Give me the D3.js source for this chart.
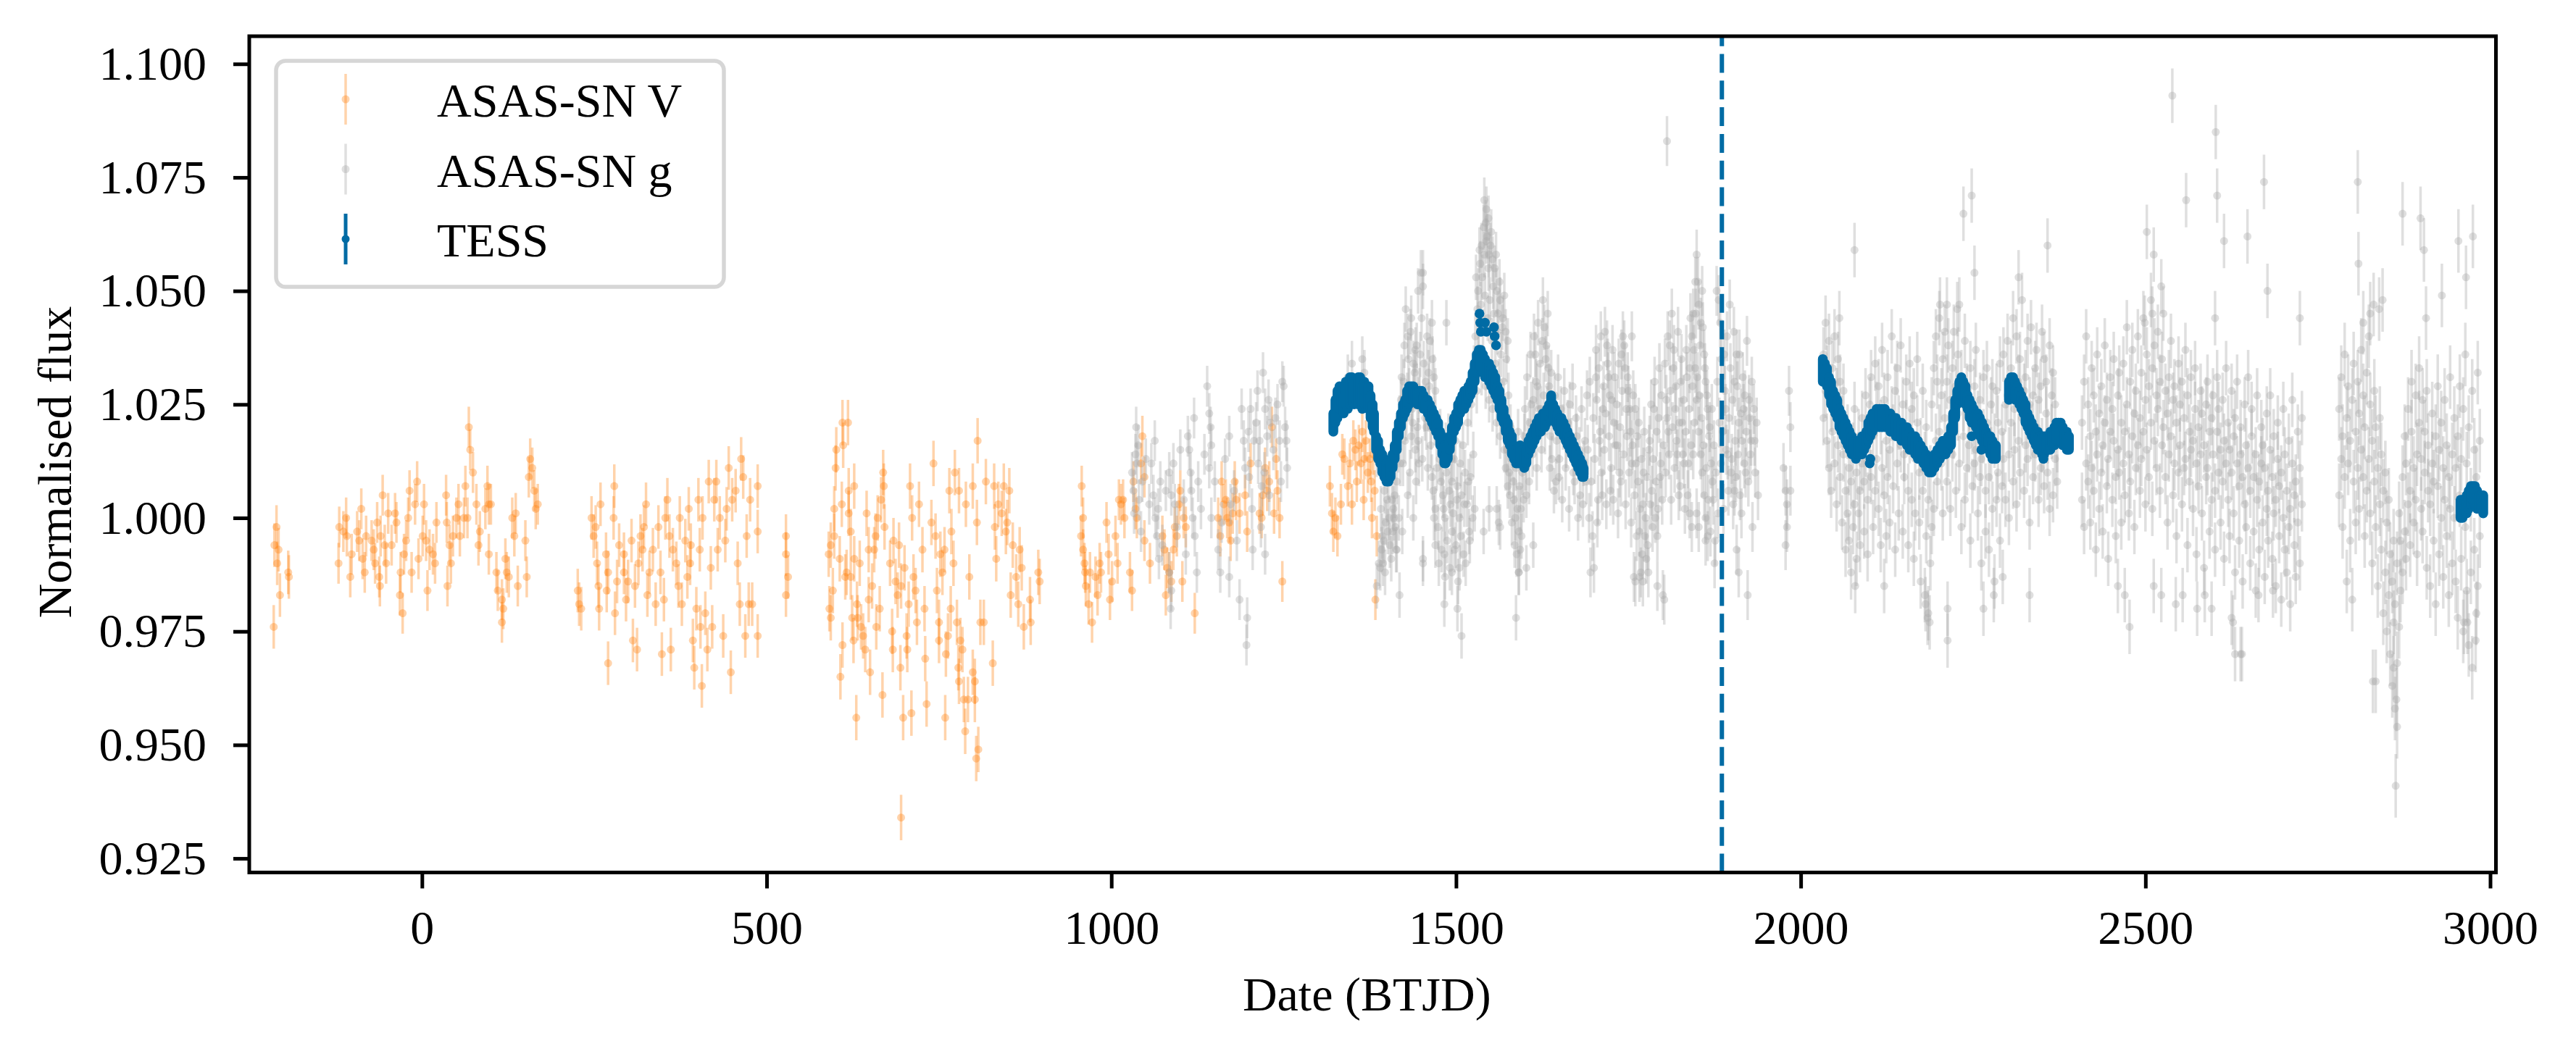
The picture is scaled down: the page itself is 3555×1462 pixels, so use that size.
<!DOCTYPE html>
<html>
<head>
<meta charset="utf-8">
<script src="https://d3js.org/d3.v7.min.js"></script>
<style>
body { margin: 0; background: #fff; }
text { font-family: "Liberation Serif", "DejaVu Serif", serif; }
</style>
</head>
<body>
<svg id="chart" width="3555" height="1462"></svg>
<script>

// ---- data: [date (BTJD), normalised flux] ----

// ASAS-SN V, one array per observing season
var asasV1 = [[-211,0.998],[-214,0.994],[-208,0.993],[-210,0.990],[-206,0.983],[-215,0.976],[-194,0.988],[-193,0.987]];
var asasV2 = [[-120,0.998],[-121,0.990],[-114,0.997],[-110,1.000],[-109,0.996],[-104,0.987],[-102,0.992],[-94,0.997],[-91,0.995],[-88,1.002],
  [-86,0.991],[-83,0.988],[-81,0.996],[-73,0.995],[-70,0.993],[-68,0.990],[-65,0.999],[-62,0.987],[-61,0.985],[-60,0.996],
  [-57,1.005],[-54,0.994],[-52,0.990],[-49,1.001],[-44,0.994],[-39,1.001],[-37,0.999],[-32,0.983],[-31,0.988],[-28,0.979],
  [-26,0.992],[-23,0.995],[-20,1.000],[-18,1.006],[-15,0.988],[-10,1.003],[-7,1.008],[-5,0.991],[1,0.996],[3,1.003],
  [6,0.995],[8,0.984],[11,0.993],[16,0.992],[19,0.990],[21,0.999],[35,1.005],[36,0.999],[37,0.985],[40,0.994],
  [42,0.990],[45,0.996],[50,1.000],[53,1.003],[55,0.996],[61,1.000],[63,1.007],[66,1.000],[68,1.020],[70,1.015],
  [74,1.010],[79,1.003],[82,0.994],[84,0.997],[92,1.002],[95,1.007],[97,1.003],[100,1.003],[97,0.992],[108,0.988],
  [110,0.984],[116,0.982],[118,0.980],[116,0.977],[121,0.991],[123,0.988],[126,0.987],[131,1.000],[134,0.996],[136,1.001],
  [139,0.985],[150,0.995],[152,0.987],[155,1.009],[157,1.013],[160,1.011],[163,1.006],[165,1.002],[168,1.003]];
var asasV3 = [[226,0.984],[228,0.981],[231,0.980],[246,1.000],[249,0.996],[252,0.998],[254,0.990],[256,0.985],[257,0.980],[259,1.003],
  [267,0.992],[270,0.988],[268,0.984],[270,0.968],[278,1.000],[279,1.007],[280,0.979],[283,0.986],[286,0.994],[293,0.992],
  [293,0.988],[296,0.982],[299,0.986],[304,0.995],[306,0.973],[309,0.985],[312,0.971],[314,0.990],[317,0.996],[320,0.993],
  [322,0.998],[325,1.003],[327,0.983],[330,0.988],[335,0.993],[339,0.981],[343,0.998],[346,0.988],[348,0.970],[351,0.982],
  [353,1.000],[356,1.004],[359,0.996],[361,0.971],[364,0.993],[369,0.990],[372,0.985],[374,1.000],[377,0.981],[382,0.995],
  [385,0.987],[387,1.002],[389,0.990],[390,0.994],[393,0.973],[395,0.967],[398,0.980],[401,1.004],[403,0.993],[404,0.976],
  [406,0.963],[407,1.000],[411,0.979],[414,0.971],[416,1.008],[419,0.989],[421,0.976],[424,1.004],[427,1.008],[429,0.993],
  [432,1.000],[437,0.974],[440,0.995],[442,1.002],[445,1.011],[448,0.966],[450,1.004],[455,1.006],[458,0.990],[461,0.981],
  [463,1.013],[466,1.009],[469,0.974],[471,0.996],[474,0.981],[476,1.004],[479,0.981],[487,1.007],[487,0.997],[487,0.974],
  [528,0.996],[528,0.992],[531,0.987],[528,0.983]];
var asasV4 = [[593,0.994],[590,0.992],[591,0.980],[593,0.978],[596,0.984],[598,0.996],[598,1.002],[600,1.011],[601,1.015],[606,0.991],
  [607,0.965],[609,1.003],[610,1.021],[611,1.016],[610,0.972],[614,0.987],[616,0.988],[618,1.021],[619,1.006],[619,1.001],
  [622,0.987],[622,0.997],[624,0.978],[626,0.973],[627,1.007],[627,0.991],[630,0.956],[631,0.981],[632,0.978],[635,0.990],
  [637,0.976],[640,0.974],[643,0.971],[645,1.001],[648,0.982],[648,0.993],[650,0.966],[653,0.985],[656,0.993],[658,0.996],
  [659,0.976],[661,1.000],[664,0.980],[666,1.004],[668,0.961],[669,1.010],[670,1.007],[671,0.998],[679,0.990],[682,0.975],
  [683,0.971],[684,0.995],[687,0.986],[690,0.983],[692,0.994],[694,0.967],[695,0.985],[698,0.956],[700,0.989],[703,0.974],
  [704,0.971],[706,0.981],[708,1.007],[710,0.957],[711,1.000],[713,0.987],[716,0.984],[718,0.977],[721,1.003],[726,0.993],
  [729,0.980],[730,0.969],[732,0.959],[739,0.999],[742,1.012],[745,0.996],[747,0.984],[750,0.973],[750,0.977],[752,0.992],
  [755,0.988],[758,0.993],[759,0.956],[760,0.970],[763,0.974],[765,1.006],[767,0.980],[768,0.997],[771,0.990],[773,1.010],
  [776,0.977],[778,0.967],[779,1.006],[779,0.964],[781,0.973],[784,0.971],[786,0.960],[788,0.953],[789,1.003],[792,0.960],
  [794,0.987],[799,1.007],[799,0.966],[802,0.964],[802,0.960],[804,0.947],[805,0.999],[806,1.017],[807,0.949],[810,0.977],
  [815,0.977],[818,1.008],[828,0.968],[830,1.007],[831,0.998],[833,0.991],[836,1.003],[841,1.001],[844,1.007],[847,0.997],
  [849,0.999],[852,1.006],[854,0.983],[857,0.994],[862,0.987],[865,0.981],[867,0.993],[870,0.989],[873,0.976],[882,0.982],
  [883,0.977],[894,0.988],[896,0.986],[695,0.934]];
var asasV5 = [[957,1.007],[959,1.000],[956,0.996],[959,0.993],[961,0.990],[962,0.988],[963,0.985],[967,0.981],[969,0.988],[972,0.977],
  [977,0.987],[980,0.983],[983,0.990],[985,0.988],[993,0.999],[996,0.992],[998,0.982],[1001,0.986],[1006,0.996],[1009,0.990],
  [1011,1.004],[1014,1.003],[1017,1.004],[1019,1.000],[1027,0.988],[1030,0.984],[1032,1.008],[1035,1.002],[1037,1.000],[1043,1.012],
  [1045,1.018],[1048,0.995],[1048,1.009],[1056,0.990],[1074,0.996],[1077,0.993],[1079,0.983],[1081,0.989],[1084,0.988],[1087,0.986],
  [1090,0.993],[1092,0.998],[1095,0.996],[1098,1.003],[1100,1.006],[1103,0.986],[1105,1.000],[1108,0.998],[1121,0.979],[1155,1.000],
  [1158,0.996],[1160,1.008],[1163,1.003],[1166,1.004],[1168,1.000],[1171,0.999],[1173,0.995],[1176,1.001],[1179,1.008],[1181,1.004],
  [1186,1.001],[1194,1.005],[1197,0.997],[1202,1.012],[1215,1.001],[1218,1.000],[1220,1.005],[1223,1.011],[1226,1.006],[1229,1.008],
  [1233,1.020],[1236,1.001],[1239,1.013],[1241,1.006],[1244,1.000],[1248,0.986]];
var asasV6 = [[1317,1.007],[1320,1.001],[1322,0.997],[1325,1.000],[1328,0.996],[1333,1.003],[1335,1.014],[1338,1.013],[1343,1.007],[1346,1.012],
  [1349,1.003],[1351,1.017],[1354,1.015],[1356,1.008],[1359,1.016],[1362,1.012],[1364,1.019],[1367,1.013],[1369,1.017],[1372,1.010],
  [1375,1.013],[1377,1.008],[1380,1.014],[1383,0.982],[1385,0.996],[1378,1.000],[1366,1.004],[1382,1.006]];
var asasVErr = [0.0048, 0.0045, 0.0048, 0.0050, 0.0045, 0.0045];

// ASAS-SN g, one array per observing season
var asasG1 = [[1030,1.010],[1032,1.006],[1035,1.014],[1036,1.020],[1037,1.012],[1040,1.004],[1043,0.997],[1058,1.012],[1061,1.005],[1064,1.000],
  [1066,0.996],[1069,0.991],[1071,1.008],[1084,1.010],[1087,1.005],[1084,0.988],[1087,0.984],[1086,0.980],[1092,1.003],[1111,1.018],
  [1113,1.015],[1116,1.006],[1118,1.000],[1121,0.996],[1124,0.988],[1126,1.008],[1139,1.029],[1142,1.023],[1144,1.020],[1145,1.016],
  [1142,1.011],[1145,1.000],[1155,0.993],[1158,0.988],[1171,1.018],[1173,1.003],[1171,0.987],[1186,0.982],[1189,1.024],[1192,1.017],
  [1194,1.011],[1197,0.978],[1196,0.972],[1199,1.019],[1202,1.024],[1205,0.993],[1207,1.017],[1210,1.021],[1213,1.012],[1215,1.017],
  [1218,1.007],[1220,1.032],[1223,1.024],[1226,1.018],[1223,0.992],[1228,1.026],[1231,1.021],[1241,1.025],[1244,1.017],[1248,1.030],
  [1250,1.029],[1254,1.017],[1255,1.011],
  [1033,1.001],[1039,1.016],[1045,1.008],[1050,1.013],[1055,1.003],[1063,1.017],[1068,1.002],[1074,0.994],[1079,1.006],[1090,1.012],
  [1095,0.998],[1100,1.015],[1105,1.004],[1108,0.992],[1115,1.010],[1120,1.022],[1130,1.002],[1135,1.014],[1150,1.008],[1160,0.999],
  [1165,1.013],[1178,1.006],[1182,0.995],[1200,1.009],[1204,1.002],[1212,1.028],[1217,0.998],[1222,1.010],[1229,1.005],[1235,1.015],
  [1238,1.022],[1246,1.008],[1252,1.020]];
var asasG2 = [[1343,1.031],[1349,1.034],[1364,1.035],[1367,1.032],[1385,1.014],[1388,0.990],[1385,0.985],
  [1390,0.989],[1395,0.995],[1401,0.997],[1403,1.000],[1409,1.002],[1411,1.005],[1414,1.008],[1417,1.000],[1419,1.012],[1422,0.997],
  [1414,0.993],[1406,0.991],[1427,1.046],[1430,1.040],[1435,1.044],[1438,1.034],[1441,1.037],[1443,1.029],[1446,1.026],[1452,1.054],
  [1452,1.051],[1454,1.024],[1457,1.020],[1460,1.032],[1462,1.039],[1465,1.043],[1468,1.031],[1470,1.028],[1435,1.018],[1441,1.015],
  [1446,1.012],[1430,1.005],[1438,1.000],[1452,0.991],[1468,1.000],[1470,1.002],[1465,1.009],[1476,1.013],[1478,1.008],[1481,1.005],
  [1484,1.000],[1486,1.010],[1489,1.018],[1492,1.003],[1494,0.997],[1497,1.013],[1500,0.994],[1502,1.007],[1505,1.000],[1508,1.005],
  [1511,0.992],[1513,1.010],[1516,1.003],[1519,0.997],[1521,1.009],[1524,1.000],[1527,1.002],[1494,1.008],[1505,0.989],[1486,1.043],
  [1484,0.987],[1529,1.053],[1532,1.050],[1535,1.056],[1537,1.060],[1540,1.064],[1543,1.065],[1545,1.062],[1548,1.058],[1551,1.063],
  [1553,1.057],[1556,1.055],[1559,1.050],[1561,1.045],[1564,1.048],[1567,1.042],[1570,1.049],[1572,1.041],[1575,1.039],[1532,1.036],
  [1537,1.032],[1543,1.029],[1548,1.026],[1553,1.024],[1559,1.021],[1564,1.018],[1570,1.015],[1572,1.011],[1575,1.007],[1559,1.002],
  [1564,0.998],[1548,1.002],[1578,1.005],[1580,1.013],[1540,0.997],[1541,1.070],[1544,1.068],[1547,1.066],[1583,1.008],[1586,1.000],
  [1588,0.992],[1591,0.997],[1594,1.002],[1596,1.010],[1599,1.018],[1602,1.005],[1607,1.021],[1612,1.026],[1615,1.036],[1618,1.029],
  [1623,1.024],[1626,1.048],[1628,1.042],[1631,1.038],[1634,1.033],[1637,1.018],[1639,1.013],[1645,1.008],[1650,1.013],[1612,0.994],
  [1602,0.989],[1591,0.988],[1418,0.983],[1452,0.990],[1483,0.981],[1483,0.992],[1494,0.988],[1502,0.980],[1508,0.974],[1562,0.999],
  [1587,0.978],[1591,0.988],[1593,0.993],[1392,0.993],[1394,0.990],[1397,0.988],[1408,0.997],[1410,1.000],[1413,0.993],[1400,1.004],
  [1470,0.994],[1475,0.990],[1420,1.026],[1424,1.030],[1428,1.022],[1432,1.028],[1436,1.024],[1440,1.032],[1444,1.020],[1448,1.036],
  [1456,1.030],[1460,1.024],[1464,1.020],[1449,1.054],[1445,1.050],[1655,1.020],[1660,1.016],[1665,1.025],[1670,1.010],[1675,1.018],
  [1680,1.005],[1685,1.012],
  [1391,1.002],[1393,0.996],[1396,1.006],[1398,0.999],[1402,1.009],[1404,0.994],[1407,1.004],[1412,0.998],[1416,1.015],[1418,1.022],
  [1421,1.031],[1423,1.012],[1425,1.038],[1426,1.017],[1429,1.027],[1431,1.035],[1433,1.010],[1434,1.041],[1437,1.021],[1439,1.029],
  [1442,1.008],[1443,1.038],[1445,1.017],[1447,1.028],[1450,1.044],[1451,1.013],[1453,1.034],[1455,1.022],[1458,1.040],[1459,1.011],
  [1461,1.029],[1463,1.016],[1466,1.035],[1467,1.006],[1469,1.021],[1472,1.011],[1474,0.998],[1477,1.019],[1479,0.993],[1480,1.012],
  [1482,1.002],[1485,1.016],[1487,0.995],[1490,1.006],[1491,0.989],[1493,1.013],[1496,1.001],[1498,0.993],[1499,1.017],[1501,1.004],
  [1503,0.986],[1506,1.012],[1507,0.996],[1510,1.016],[1512,1.003],[1514,0.990],[1517,1.021],[1518,1.008],[1520,0.995],[1522,1.025],
  [1525,1.014],[1526,1.033],[1528,1.040],[1530,1.028],[1531,1.046],[1533,1.037],[1534,1.059],[1536,1.047],[1538,1.053],[1539,1.041],
  [1541,1.058],[1542,1.049],[1544,1.061],[1546,1.044],[1547,1.055],[1549,1.048],[1550,1.060],[1552,1.039],[1554,1.051],[1555,1.045],
  [1557,1.034],[1558,1.058],[1560,1.041],[1562,1.030],[1563,1.052],[1565,1.036],[1566,1.024],[1568,1.044],[1569,1.030],[1571,1.021],
  [1573,1.035],[1574,1.015],[1576,1.027],[1577,1.010],[1579,1.020],[1581,0.999],[1582,1.016],[1584,1.004],[1585,0.994],[1587,1.011],
  [1589,1.002],[1590,1.019],[1592,1.007],[1595,0.996],[1597,1.014],[1598,1.004],[1600,1.024],[1601,1.011],[1603,1.031],[1604,1.017],
  [1606,1.008],[1608,1.036],[1609,1.025],[1611,1.014],[1613,1.040],[1614,1.020],[1616,1.030],[1617,1.011],[1619,1.043],[1620,1.024],
  [1622,1.034],[1624,1.015],[1625,1.039],[1627,1.027],[1629,1.019],[1630,1.035],[1632,1.024],[1633,1.045],[1635,1.029],[1636,1.011],
  [1638,1.032],[1640,1.022],[1642,1.006],[1643,1.027],[1646,1.017],[1648,1.031],[1649,1.009],[1652,1.024],[1654,1.004],[1657,1.028],
  [1659,1.011],[1662,1.021],[1664,1.002],[1667,1.017],[1669,1.029],[1672,1.008],[1674,1.022],[1677,1.000],[1679,1.015],[1682,1.024],
  [1684,1.003],[1687,1.017],[1689,1.008]];
var asasG3 = [[1690,1.027],[1693,1.000],[1695,0.988],[1698,0.996],[1700,0.989],[1703,1.037],[1703,1.031],[1706,1.004],[1708,1.017],[1711,1.010],
  [1713,1.024],[1716,1.041],[1719,1.038],[1721,1.031],[1724,1.006],[1726,1.026],[1729,1.021],[1734,1.016],[1737,1.010],[1740,1.036],
  [1742,1.040],[1745,1.033],[1747,1.024],[1750,1.028],[1753,1.019],[1755,1.012],[1758,0.987],[1760,0.986],[1763,1.018],[1766,0.997],
  [1768,0.988],[1771,1.003],[1774,0.996],[1776,0.991],[1779,0.988],[1760,1.024],[1755,1.040],[1781,1.017],[1784,1.006],[1787,1.024],
  [1789,1.000],[1792,0.996],[1795,1.033],[1797,1.012],[1800,0.983],[1802,0.982],[1805,1.026],[1808,1.019],[1810,1.038],[1813,1.045],
  [1815,1.033],[1818,1.024],[1821,1.014],[1823,1.005],[1826,1.030],[1828,1.021],[1831,1.012],[1834,1.037],[1836,1.005],[1839,1.001],
  [1842,0.998],[1844,1.014],[1766,0.987],[1771,0.986],[1792,0.985],[1806,1.083],[1847,1.052],[1849,1.058],[1852,1.047],[1855,1.043],
  [1857,1.050],[1860,1.036],[1862,1.030],[1865,1.024],[1844,1.045],[1842,1.040],[1839,1.033],[1847,1.033],[1849,1.026],[1852,1.019],
  [1855,1.014],[1857,1.010],[1860,1.005],[1862,1.000],[1865,0.996],[1849,1.001],[1852,0.998],[1862,0.995],[1878,1.050],[1881,1.048],
  [1883,1.043],[1870,1.012],[1873,1.004],[1876,0.995],[1868,1.020],[1889,1.036],[1891,1.024],[1894,1.014],[1897,1.047],[1899,1.010],
  [1902,1.003],[1904,1.030],[1907,1.036],[1910,1.021],[1912,1.005],[1915,1.017],[1917,1.024],[1920,1.010],[1923,0.983],[1925,1.026],
  [1928,1.017],[1933,1.017],[1907,0.993],[1910,0.988],[1904,1.006],[1975,1.011],[1978,1.006],[1980,0.998],[1978,0.994],[1983,1.028],
  [1985,1.020],[1985,1.006],[1980,1.003],
  [1691,1.015],[1694,1.030],[1696,1.008],[1699,1.022],[1701,1.013],[1704,1.026],[1705,0.999],[1707,1.033],[1709,1.019],[1710,1.040],
  [1712,1.005],[1714,1.029],[1715,1.015],[1717,1.023],[1718,1.003],[1720,1.034],[1722,1.018],[1723,1.027],[1725,1.011],[1727,1.037],
  [1728,1.004],[1730,1.031],[1731,1.016],[1733,1.025],[1735,1.001],[1736,1.034],[1738,1.020],[1739,1.008],[1741,1.028],[1743,1.014],
  [1744,1.038],[1746,1.003],[1748,1.018],[1749,1.031],[1751,1.010],[1752,1.024],[1754,0.999],[1756,1.016],[1757,1.027],[1759,1.005],
  [1761,1.012],[1762,0.996],[1764,1.008],[1765,1.021],[1767,1.002],[1769,1.013],[1770,0.992],[1772,1.010],[1773,1.019],[1775,1.000],
  [1777,1.009],[1778,0.994],[1780,1.015],[1782,1.003],[1783,1.025],[1785,0.998],[1786,1.013],[1788,1.030],[1790,1.008],[1791,1.019],
  [1793,1.002],[1794,1.022],[1796,1.009],[1798,1.027],[1799,1.004],[1801,1.016],[1803,1.034],[1804,1.010],[1806,1.022],[1807,1.040],
  [1809,1.014],[1811,1.028],[1812,1.004],[1814,1.020],[1816,1.037],[1817,1.011],[1819,1.029],[1820,1.017],[1822,1.041],[1824,1.021],
  [1825,1.007],[1827,1.035],[1829,1.014],[1830,1.026],[1832,1.002],[1833,1.019],[1835,1.031],[1837,1.012],[1838,1.024],[1840,1.044],
  [1841,1.016],[1843,1.029],[1845,1.037],[1846,1.021],[1848,1.045],[1850,1.031],[1851,1.052],[1853,1.027],[1854,1.038],[1856,1.022],
  [1858,1.042],[1859,1.016],[1861,1.033],[1863,1.011],[1864,1.027],[1866,1.004],[1867,1.018],[1869,0.997],[1871,1.024],[1872,1.008],
  [1874,1.016],[1875,0.990],[1877,1.010],[1879,1.030],[1880,1.001],[1882,1.021],[1884,1.012],[1885,1.035],[1887,1.019],[1888,1.002],
  [1890,1.028],[1892,1.015],[1893,1.040],[1895,1.006],[1896,1.022],[1898,1.033],[1900,1.013],[1901,1.026],[1903,1.041],[1905,1.017],
  [1906,1.009],[1908,1.029],[1909,1.014],[1911,1.036],[1913,1.023],[1914,1.001],[1916,1.031],[1918,1.012],[1919,1.027],[1921,1.019],
  [1922,1.039],[1924,1.008],[1926,1.022],[1927,1.014],[1929,1.030],[1930,0.998],[1932,1.024],[1934,1.010],[1936,1.021],[1938,1.005]];
var asasG4 = [[2033,1.036],[2033,1.022],[2036,1.028],[2036,1.043],[2038,1.017],[2038,1.032],[2041,1.039],[2041,1.011],[2044,1.025],[2044,1.006],
  [2046,1.033],[2046,1.019],[2049,1.012],[2049,1.040],[2052,1.027],[2052,1.003],[2054,1.016],[2054,1.035],[2057,1.030],[2057,1.009],
  [2060,0.999],[2060,1.021],[2062,1.014],[2062,1.028],[2065,1.006],[2065,0.993],[2068,1.019],[2068,1.001],[2070,0.995],[2070,1.011],
  [2073,1.008],[2073,0.988],[2076,1.015],[2076,0.998],[2078,1.003],[2078,1.024],[2081,0.991],[2081,1.010],[2084,1.018],[2084,1.001],
  [2086,1.006],[2086,0.994],[2089,1.022],[2089,1.012],[2092,0.997],[2092,1.008],[2094,1.015],[2094,1.027],[2097,1.004],[2097,0.992],
  [2100,1.025],[2100,1.012],[2102,1.009],[2102,1.031],[2105,1.018],[2105,0.998],[2108,1.034],[2108,1.006],[2110,1.013],[2110,1.024],
  [2113,1.002],[2113,1.029],[2116,1.020],[2116,0.994],[2118,1.011],[2118,1.037],[2121,1.026],[2121,1.005],[2124,0.996],[2124,1.017],
  [2126,1.031],[2126,1.009],[2129,1.015],[2129,0.999],[2132,1.023],[2132,1.040],[2134,1.007],[2134,1.019],[2137,1.028],[2137,0.993],
  [2140,1.012],[2140,1.033],[2142,1.001],[2142,1.021],[2145,1.016],[2145,1.038],[2148,1.025],[2148,0.997],[2150,1.009],[2150,1.014],
  [2153,1.030],[2153,1.020],[2156,0.994],[2156,1.006],[2158,1.018],[2158,1.034],[2161,1.004],[2161,1.024],[2164,1.027],[2164,0.991],
  [2166,1.013],[2166,1.001],[2169,1.021],[2169,1.035],[2172,0.999],[2172,1.010],[2174,1.016],[2174,0.986],[2177,1.006],[2177,1.028],
  [2180,0.983],[2180,1.013],[2182,0.996],[2182,1.020],[2185,0.979],[2185,1.004],[2188,1.010],[2188,0.990],[2190,1.025],[2190,0.998],
  [2193,1.002],[2193,1.033],[2196,1.017],[2196,1.040],[2198,1.030],[2198,1.008],[2201,1.044],[2201,1.019],[2204,1.012],[2204,1.027],
  [2206,1.035],[2206,1.001],[2209,1.022],[2209,1.041],[2212,1.008],[2212,1.030],[2214,1.038],[2214,1.015],[2217,1.026],[2217,1.002],
  [2220,1.014],[2220,1.033],[2222,1.041],[2222,1.019],[2225,1.006],[2225,1.029],[2228,1.023],[2228,1.036],[2230,1.012],[2230,1.047],
  [2233,1.031],[2233,0.998],[2236,1.018],[2236,1.025],[2238,1.039],[2238,1.004],[2241,1.011],[2241,1.028],[2244,1.024],[2244,1.016],
  [2246,1.033],[2246,0.995],[2249,1.007],[2249,1.020],[2252,1.029],[2252,1.012],[2254,1.015],[2254,1.037],[2257,1.001],[2257,1.022],
  [2260,1.026],[2260,1.009],[2262,1.013],[2262,0.990],[2265,1.031],[2265,1.018],[2268,0.997],[2268,1.006],[2270,1.021],[2270,1.033],
  [2273,1.009],[2273,0.993],[2276,1.025],[2276,1.014],[2278,1.002],[2278,1.029],[2281,1.017],[2281,0.986],[2284,1.028],[2284,1.004],
  [2286,1.010],[2286,1.021],[2289,0.995],[2289,1.034],[2292,1.019],[2292,1.007],[2294,1.036],[2294,1.013],[2297,1.004],[2297,1.025],
  [2300,1.027],[2300,1.039],[2302,1.014],[2302,1.000],[2305,1.033],[2305,1.021],[2308,1.008],[2308,1.044],[2310,1.024],[2310,1.015],
  [2313,1.040],[2313,1.003],[2316,1.017],[2316,1.030],[2318,1.035],[2318,1.010],[2321,1.022],[2321,1.048],[2324,1.006],[2324,1.028],
  [2326,1.031],[2326,1.016],[2329,1.013],[2329,1.039],[2332,1.025],[2332,0.999],[2334,1.042],[2334,1.019],[2337,1.009],[2337,1.027],
  [2340,1.033],[2340,1.014],[2342,1.020],[2342,1.037],[2345,1.004],[2345,1.026],[2348,1.029],[2348,1.011],[2350,1.016],[2350,1.041],
  [2353,1.035],[2353,1.007],[2356,1.023],[2356,1.030],[2358,1.010],[2358,1.018],[2361,1.038],[2361,1.002],[2364,1.019],[2364,1.027],
  [2366,1.005],[2366,1.032],[2369,1.025],[2369,1.013],[2372,1.016],[2372,1.008],
  [2078,1.059],[2236,1.067],[2248,1.071],[2252,1.054],[2358,1.060],[2316,1.053],[2056,1.044],[2202,1.047],[2212,1.047],[2227,1.046],
  [2184,0.978],[2187,0.977],[2181,0.981],[2213,0.980],[2213,0.973],[2265,0.980],[2280,0.983],[2332,0.983],[2293,0.987],[2079,0.985],
  [2121,0.985]];
var asasG5 = [[2408,1.021],[2408,1.004],[2411,1.030],[2411,0.998],[2414,1.012],[2414,1.040],[2417,1.025],[2417,1.008],[2420,0.999],[2420,1.018],
  [2422,1.033],[2422,1.011],[2425,1.006],[2425,1.027],[2428,1.019],[2428,0.993],[2430,1.036],[2430,1.014],[2433,1.002],[2433,1.023],
  [2436,1.029],[2436,1.010],[2438,1.016],[2438,0.997],[2441,1.038],[2441,1.021],[2444,1.007],[2444,1.026],[2446,1.013],[2446,0.991],
  [2449,1.031],[2449,1.019],[2452,1.004],[2452,1.024],[2454,1.017],[2454,1.035],[2457,0.996],[2457,1.009],[2460,1.027],[2460,1.015],
  [2462,1.010],[2462,1.032],[2465,1.021],[2465,0.999],[2468,1.034],[2468,1.012],[2470,1.005],[2470,1.019],[2473,1.025],[2473,1.042],
  [2476,1.014],[2476,1.001],[2478,1.030],[2478,1.008],[2481,1.018],[2481,1.037],[2484,0.998],[2484,1.023],[2486,1.011],[2486,1.028],
  [2489,1.040],[2489,1.016],[2492,1.006],[2492,1.022],[2494,1.032],[2494,1.013],[2497,1.019],[2497,1.044],[2500,1.026],[2500,1.003],
  [2502,1.015],[2502,1.036],[2505,1.029],[2505,1.009],[2508,1.021],[2508,1.048],[2510,1.002],[2510,1.033],[2513,1.038],[2513,1.017],
  [2516,1.011],[2516,1.027],[2518,1.024],[2518,1.041],[2521,1.030],[2521,1.006],[2524,1.016],[2524,1.035],[2526,1.045],[2526,1.020],
  [2529,1.009],[2529,1.028],[2532,1.023],[2532,0.999],[2534,1.031],[2534,1.014],[2537,1.018],[2537,1.039],[2540,1.005],[2540,1.026],
  [2542,1.029],[2542,1.012],[2545,1.021],[2545,0.996],[2548,1.034],[2548,1.010],[2550,1.016],[2550,1.025],[2553,1.003],[2553,1.030],
  [2556,1.022],[2556,1.011],[2558,1.013],[2558,1.037],[2561,1.027],[2561,0.994],[2564,1.008],[2564,1.019],[2566,1.031],[2566,1.015],
  [2569,1.017],[2569,1.002],[2572,1.024],[2572,1.033],[2574,0.992],[2574,1.012],[2577,1.020],[2577,1.007],[2580,1.028],[2580,1.014],
  [2582,1.001],[2582,1.023],[2585,1.016],[2585,0.989],[2588,1.025],[2588,1.009],[2590,1.011],[2590,1.030],[2593,0.997],[2593,1.019],
  [2596,1.022],[2596,1.004],[2598,1.014],[2598,1.027],[2601,1.006],[2601,0.993],[2604,1.019],[2604,1.031],[2606,1.010],[2606,1.024],
  [2609,0.999],[2609,1.015],[2612,1.026],[2612,1.008],[2614,1.017],[2614,0.991],[2617,1.033],[2617,1.012],[2620,1.004],[2620,1.021],
  [2622,1.015],[2622,0.996],[2625,1.028],[2625,1.010],[2628,1.001],[2628,1.018],[2630,1.022],[2630,0.988],[2633,1.012],[2633,1.030],
  [2636,0.995],[2636,1.007],[2638,1.020],[2638,1.014],[2641,1.009],[2641,0.986],[2644,1.025],[2644,1.003],[2646,1.016],[2646,0.998],
  [2649,1.031],[2649,1.011],[2652,1.006],[2652,0.990],[2654,1.018],[2654,1.024],[2657,0.997],[2657,1.009],[2660,1.014],[2660,0.984],
  [2662,1.027],[2662,1.004],[2665,1.008],[2665,0.993],[2668,1.020],[2668,1.012],[2670,0.999],[2670,1.016],[2673,1.011],[2673,0.987],
  [2676,1.023],[2676,1.002],[2678,1.006],[2678,0.995],[2681,1.015],[2681,1.027],[2684,0.991],[2684,1.009],[2686,1.018],[2686,1.001],
  [2689,1.004],[2689,0.985],[2692,1.013],[2692,1.021],[2694,0.996],[2694,1.007],[2697,1.010],[2697,0.982],[2700,1.024],[2700,1.000],
  [2702,0.993],[2702,1.014],[2705,1.006],[2705,0.988],[2708,1.017],[2708,0.998],[2710,1.002],[2710,0.981],[2713,1.012],[2713,1.026],
  [2716,0.994],[2716,1.005],[2718,1.008],[2718,0.987],[2721,1.019],[2721,0.999],[2724,0.990],[2724,1.011],[2727,1.003],[2727,1.022],
  [2539,1.093],[2602,1.085],[2604,1.071],[2559,1.070],[2672,1.074],[2502,1.063],[2512,1.058],[2614,1.061],[2648,1.062],[2523,1.051],
  [2677,1.050],[2601,1.044],[2724,1.044],[2499,1.043],[2510,1.045],[2477,0.976],[2625,0.978],[2630,0.970],[2640,0.970],[2638,0.970],
  [2627,0.977],[2575,0.980],[2596,0.980],[2544,0.981],[2554,0.983],[2460,0.985],[2470,0.983],[2512,0.985],[2523,0.983],[2586,0.983],
  [2664,0.983],[2685,0.984]];
var asasG6 = [[2781,1.024],[2781,1.005],[2784,1.031],[2784,1.013],[2786,1.018],[2786,0.998],[2789,1.036],[2789,1.009],[2792,1.022],[2792,0.986],
  [2794,1.012],[2794,1.029],[2797,0.995],[2797,1.017],[2800,1.026],[2800,0.982],[2802,1.008],[2802,1.034],[2805,1.019],[2805,0.999],
  [2808,1.030],[2808,1.011],[2810,1.002],[2810,1.023],[2813,1.037],[2813,1.015],[2816,1.009],[2816,1.027],[2818,1.020],[2818,0.996],
  [2821,1.032],[2821,1.006],[2824,1.013],[2824,1.040],[2826,1.025],[2826,1.001],[2829,1.017],[2829,0.990],[2832,1.028],[2832,1.008],
  [2834,0.998],[2834,1.020],[2837,1.011],[2837,0.985],[2840,1.022],[2840,1.003],[2842,0.993],[2842,1.014],[2845,1.006],[2845,0.979],
  [2848,0.988],[2848,1.010],[2850,0.999],[2850,0.975],[2853,0.983],[2853,1.004],[2855,0.970],[2855,0.992],[2858,0.986],[2858,0.963],
  [2860,0.977],[2860,0.995],[2862,0.958],[2862,0.981],[2865,0.990],[2865,0.968],[2868,0.976],[2868,1.001],[2870,0.995],[2870,0.984],
  [2873,1.009],[2873,0.988],[2876,0.997],[2876,1.018],[2878,1.012],[2878,0.991],[2881,1.024],[2881,1.003],[2884,1.006],[2884,0.994],
  [2886,1.019],[2886,1.030],[2889,0.999],[2889,1.011],[2892,1.027],[2892,1.004],[2894,1.014],[2894,0.992],[2897,1.021],[2897,1.033],
  [2900,1.002],[2900,1.013],[2902,1.026],[2902,0.997],[2905,1.010],[2905,1.019],[2908,0.989],[2908,1.028],[2910,1.016],[2910,1.006],
  [2913,1.003],[2913,0.985],[2916,1.023],[2916,1.012],[2918,0.995],[2918,1.008],[2921,1.018],[2921,0.981],[2924,1.007],[2924,1.029],
  [2926,0.992],[2926,1.015],[2929,1.021],[2929,1.000],[2932,1.011],[2932,0.987],[2934,1.026],[2934,1.004],[2937,0.996],[2937,1.016],
  [2940,1.009],[2940,0.983],[2942,1.031],[2942,1.002],[2945,1.014],[2945,0.990],[2948,1.000],[2948,1.022],[2950,0.986],[2950,1.011],
  [2953,1.018],[2953,0.978],[2956,1.005],[2956,1.029],[2958,0.991],[2958,1.013],[2961,1.024],[2961,0.975],[2964,0.998],[2964,1.036],
  [2966,1.012],[2966,0.984],[2969,0.972],[2969,1.020],[2972,1.004],[2972,0.988],[2974,1.028],[2974,0.967],[2977,0.993],[2977,1.015],
  [2980,1.009],[2980,0.979],[2982,0.985],[2982,1.032],[2985,1.017],[2985,0.996],
  [2808,1.074],[2809,1.056],[2873,1.067],[2899,1.066],[2904,1.059],[2954,1.061],[2975,1.062],[2965,1.053],[2930,1.049],[2844,1.048],
  [2839,1.046],[2831,1.047],[2826,1.045],[2816,1.043],[2907,1.044],[2863,0.941],[2865,0.954],[2864,0.960],[2834,0.964],[2830,0.964],
  [2860,0.967],[2979,0.973],[2962,0.977],[2967,0.977]];
var asasGErr = [0.0045, 0.0050, 0.0055, 0.0060, 0.0060, 0.0070];

// TESS, [date, lower edge, upper edge] of the dense band of points
var tess1 = [[1322,1.019,1.023],[1325,1.021,1.026],[1328,1.022,1.028],[1331,1.024,1.029],[1334,1.025,1.028],[1337,1.023,1.027],[1340,1.025,1.030],
  [1343,1.024,1.029],[1346,1.025,1.031],[1349,1.026,1.031],[1352,1.025,1.030],[1355,1.026,1.030],[1358,1.025,1.031],[1361,1.026,1.031],
  [1364,1.024,1.029],[1367,1.025,1.030],[1370,1.025,1.029],[1373,1.024,1.029],[1376,1.022,1.027],[1379,1.020,1.025],[1381,1.019,1.023],
  [1384,1.015,1.018],[1387,1.013,1.017],[1390,1.012,1.015],[1393,1.010,1.014],[1396,1.009,1.013],[1399,1.008,1.012],[1402,1.008,1.011],
  [1405,1.009,1.012],[1408,1.011,1.014],[1411,1.013,1.016],[1414,1.015,1.019],[1417,1.018,1.021],[1420,1.020,1.023],[1423,1.022,1.025],
  [1426,1.023,1.026],[1429,1.024,1.028],[1432,1.025,1.029],[1435,1.026,1.029],[1438,1.026,1.029],[1441,1.026,1.028],[1444,1.025,1.028],
  [1447,1.025,1.028],[1450,1.025,1.028],[1453,1.024,1.027],[1456,1.024,1.026],[1459,1.023,1.026],[1462,1.022,1.025],[1465,1.021,1.024],
  [1468,1.020,1.023],[1471,1.019,1.022],[1474,1.018,1.021],[1477,1.016,1.019],[1480,1.014,1.018],[1483,1.012,1.016],[1485,1.012,1.014],
  [1488,1.013,1.016],[1491,1.015,1.018],[1494,1.017,1.020],[1497,1.019,1.022],[1500,1.020,1.023],[1503,1.021,1.025],[1506,1.023,1.026],
  [1509,1.024,1.027],[1512,1.024,1.028],[1515,1.025,1.028],[1518,1.026,1.029],[1521,1.027,1.030],[1524,1.028,1.032],[1527,1.030,1.034],
  [1530,1.032,1.036],[1533,1.033,1.037],[1536,1.033,1.037],[1539,1.032,1.036],[1542,1.031,1.035],[1545,1.031,1.034],[1548,1.030,1.034],
  [1551,1.029,1.033],[1554,1.028,1.032],[1557,1.027,1.031],[1560,1.026,1.029],[1563,1.024,1.028],[1566,1.022,1.026],[1569,1.021,1.024],
  [1572,1.019,1.022],[1575,1.017,1.021],[1578,1.016,1.019],[1581,1.014,1.018],[1584,1.013,1.016],[1587,1.012,1.015],[1590,1.012,1.015],
  [1593,1.012,1.016],[1596,1.012,1.015],[1599,1.011,1.014],[1602,1.012,1.015],[1605,1.014,1.017],[1608,1.015,1.018],[1611,1.016,1.019],
  [1614,1.017,1.020],[1617,1.018,1.021],[1620,1.019,1.022],[1623,1.019,1.022],[1626,1.020,1.023],[1629,1.020,1.023],[1632,1.021,1.024],
  [1635,1.022,1.025],[1638,1.023,1.027],[1641,1.022,1.025],[1644,1.021,1.024],[1647,1.020,1.023],[1650,1.019,1.022],[1653,1.019,1.022],
  [1656,1.018,1.021],[1659,1.017,1.020],[1662,1.016,1.019],[1665,1.015,1.018],[1668,1.014,1.017],[1671,1.013,1.016],[1674,1.012,1.015],
  [1677,1.011,1.014],[1680,1.010,1.013],[1683,1.009,1.012],[1685,1.009,1.011],
  [1534,1.045,1.045],[1535,1.043,1.043],[1536,1.041,1.041],[1542,1.043,1.043],[1544,1.041,1.041],[1555,1.042,1.042],[1556,1.040,1.040],[1558,1.038,1.038]];
var tess2 = [[2032,1.030,1.035],[2035,1.030,1.034],[2038,1.029,1.033],[2041,1.027,1.031],[2044,1.025,1.030],[2047,1.024,1.028],[2050,1.023,1.027],
  [2053,1.022,1.026],[2056,1.020,1.024],[2059,1.019,1.023],[2062,1.018,1.022],[2065,1.017,1.021],[2068,1.016,1.020],[2071,1.015,1.019],
  [2074,1.014,1.018],[2077,1.014,1.017],[2080,1.013,1.017],[2083,1.014,1.017],[2086,1.014,1.017],[2089,1.014,1.018],[2092,1.015,1.018],
  [2095,1.016,1.019],[2098,1.017,1.021],[2101,1.018,1.022],[2104,1.019,1.023],[2107,1.020,1.023],[2110,1.020,1.024],[2114,1.020,1.024],
  [2118,1.020,1.024],[2122,1.020,1.024],[2126,1.020,1.023],[2130,1.019,1.023],[2134,1.019,1.022],[2138,1.018,1.022],[2142,1.018,1.021],
  [2146,1.017,1.021],[2150,1.017,1.020],[2154,1.016,1.020],[2158,1.015,1.019],[2162,1.015,1.018],[2166,1.014,1.018],[2170,1.013,1.017],
  [2174,1.013,1.016],[2178,1.012,1.015],[2182,1.011,1.014],[2186,1.010,1.013],[2190,1.010,1.013],[2194,1.011,1.014],[2198,1.012,1.015],
  [2202,1.013,1.016],[2206,1.014,1.017],[2210,1.014,1.017],[2214,1.015,1.018],[2218,1.016,1.020],[2221,1.019,1.023],[2224,1.022,1.026],
  [2227,1.025,1.028],[2230,1.026,1.030],[2233,1.027,1.031],[2236,1.027,1.030],[2239,1.025,1.029],[2242,1.024,1.027],[2245,1.022,1.026],
  [2248,1.021,1.025],[2251,1.021,1.024],[2254,1.020,1.023],[2257,1.019,1.023],[2260,1.018,1.022],[2263,1.017,1.021],[2266,1.016,1.020],
  [2269,1.016,1.019],[2272,1.015,1.018],[2275,1.014,1.018],[2278,1.013,1.017],[2281,1.013,1.016],[2283,1.013,1.016],
  [2302,1.026,1.030],[2305,1.027,1.031],[2308,1.027,1.031],[2311,1.026,1.030],[2314,1.026,1.029],[2317,1.025,1.028],[2320,1.024,1.027],
  [2323,1.023,1.026],[2326,1.021,1.025],[2329,1.020,1.023],[2332,1.019,1.022],[2335,1.018,1.021],[2338,1.017,1.020],[2341,1.016,1.019],
  [2344,1.015,1.019],[2347,1.015,1.018],[2350,1.014,1.018],[2353,1.014,1.018],[2356,1.015,1.018],[2359,1.015,1.018],[2362,1.015,1.019],
  [2365,1.016,1.019],[2368,1.016,1.020],[2371,1.017,1.021],[2374,1.018,1.021],[2377,1.017,1.021],[2380,1.016,1.020],[2383,1.016,1.019],
  [2386,1.015,1.019],[2389,1.015,1.018],
  [2100,1.012,1.012],[2101,1.013,1.013],[2262,1.015,1.015],[2248,1.018,1.018],[2352,1.013,1.013]];
var tess3 = [[2957,1.000,1.004],[2960,1.000,1.004],[2963,1.001,1.004],[2966,1.001,1.005],[2969,1.002,1.006],[2972,1.003,1.007],
  [2975,1.004,1.007],[2978,1.003,1.007],[2981,1.002,1.006],[2984,1.002,1.005],[2987,1.002,1.005],[2990,1.001,1.005]];

var eventDate = 1885.6;   // dashed vertical line
var xTicks = [0, 500, 1000, 1500, 2000, 2500, 3000];
var yTicks = [0.925, 0.950, 0.975, 1.000, 1.025, 1.050, 1.075, 1.100];
var legendLabels = ["ASAS-SN V", "ASAS-SN g", "TESS"];

// ---- layout ----
var plotLeft = 344, plotRight = 3444.5, plotTop = 50, plotBottom = 1204.5;
var colV = "#FF800E", colG = "#ABABAB", colT = "#006BA4";
var opV = 0.35, opG = 0.38;
var fontSize = 66;

var svg = d3.select("#chart");

var x = d3.scaleLinear().domain([-250.5, 3008.4]).range([plotLeft, plotRight]);
var y = d3.scaleLinear().domain([0.9219, 1.1061]).range([plotBottom, plotTop]);

svg.append("defs").append("clipPath").attr("id", "plotclip")
  .append("rect")
  .attr("x", plotLeft).attr("y", plotTop)
  .attr("width", plotRight - plotLeft).attr("height", plotBottom - plotTop);

var plot = svg.append("g").attr("clip-path", "url(#plotclip)");

function errorbars(g, pts, err, color, op) {
  var bars = g.append("g");
  bars.selectAll("line").data(pts).enter().append("line")
    .attr("x1", function(d) { return x(d[0]); })
    .attr("x2", function(d) { return x(d[0]); })
    .attr("y1", function(d) { return y(d[1] - err); })
    .attr("y2", function(d) { return y(d[1] + err); })
    .attr("stroke", color).attr("stroke-opacity", op).attr("stroke-width", 3.5);
  var dots = g.append("g");
  dots.selectAll("circle").data(pts).enter().append("circle")
    .attr("cx", function(d) { return x(d[0]); })
    .attr("cy", function(d) { return y(d[1]); })
    .attr("r", 5.5)
    .attr("fill", color).attr("fill-opacity", op);
}

var vSeasons = [asasV1, asasV2, asasV3, asasV4, asasV5, asasV6];
var gSeasons = [asasG1, asasG2, asasG3, asasG4, asasG5, asasG6];

var gV = plot.append("g").attr("class", "asasV");
vSeasons.forEach(function(s, i) { errorbars(gV, s, asasVErr[i], colV, opV); });

var gG = plot.append("g").attr("class", "asasG");
gSeasons.forEach(function(s, i) { errorbars(gG, s, asasGErr[i], colG, opG); });

// TESS: dense run of opaque points, drawn as a capsule per band sample
var gT = plot.append("g").attr("class", "tess");
[tess1, tess2, tess3].forEach(function(s) {
  gT.append("g").selectAll("line").data(s).enter().append("line")
    .attr("x1", function(d) { return x(d[0]); })
    .attr("x2", function(d) { return x(d[0]); })
    .attr("y1", function(d) { return y(d[1]); })
    .attr("y2", function(d) { return y(d[2]); })
    .attr("stroke", colT).attr("stroke-width", 13.5).attr("stroke-linecap", "round");
});

// dashed marker line, dash pattern starting from the bottom like matplotlib
plot.append("line")
  .attr("x1", x(eventDate)).attr("x2", x(eventDate))
  .attr("y1", plotBottom).attr("y2", plotTop)
  .attr("stroke", colT).attr("stroke-width", 6)
  .attr("stroke-dasharray", "26,10.8");

// ---- axes ----
var xAxis = d3.axisBottom(x).tickValues(xTicks).tickFormat(d3.format("d"))
  .tickSize(22).tickSizeOuter(0).tickPadding(30);
var yAxis = d3.axisLeft(y).tickValues(yTicks).tickFormat(d3.format(".3f"))
  .tickSize(22).tickSizeOuter(0).tickPadding(37);

var gx = svg.append("g").attr("transform", "translate(0," + plotBottom + ")").call(xAxis);
var gy = svg.append("g").attr("transform", "translate(" + plotLeft + ",0)").call(yAxis);

[gx, gy].forEach(function(g) {
  g.select(".domain").remove();
  g.selectAll(".tick line").attr("stroke", "#000").attr("stroke-width", 5);
  g.selectAll(".tick text")
    .attr("fill", "#000")
    .style("font-family", "'Liberation Serif', serif")
    .style("font-size", fontSize + "px");
});

svg.append("rect")
  .attr("x", plotLeft).attr("y", plotTop)
  .attr("width", plotRight - plotLeft).attr("height", plotBottom - plotTop)
  .attr("fill", "none").attr("stroke", "#000").attr("stroke-width", 5);

svg.append("text")
  .attr("x", (plotLeft + plotRight) / 2 - 8).attr("y", 1395)
  .attr("text-anchor", "middle")
  .style("font-size", fontSize + "px")
  .text("Date (BTJD)");

svg.append("text")
  .attr("transform", "translate(98,638) rotate(-90)")
  .attr("text-anchor", "middle")
  .style("font-size", fontSize + "px")
  .text("Normalised flux");

// ---- legend ----
var legend = svg.append("g");
legend.append("rect")
  .attr("x", 381).attr("y", 84).attr("width", 618).attr("height", 312)
  .attr("rx", 13).attr("ry", 13)
  .attr("fill", "#fff").attr("fill-opacity", 0.8)
  .attr("stroke", "#ccc").attr("stroke-opacity", 0.8).attr("stroke-width", 5.5);

var legRows = [
  {label: legendLabels[0], color: colV, op: opV, lw: 3.5},
  {label: legendLabels[1], color: colG, op: opG, lw: 3.5},
  {label: legendLabels[2], color: colT, op: 1, lw: 5}
];
var rowY = d3.scalePoint().domain(legendLabels).range([137, 330]);

legRows.forEach(function(r) {
  var cy = rowY(r.label);
  legend.append("line")
    .attr("x1", 477).attr("x2", 477).attr("y1", cy - 35).attr("y2", cy + 35)
    .attr("stroke", r.color).attr("stroke-opacity", r.op).attr("stroke-width", r.lw);
  legend.append("circle")
    .attr("cx", 477).attr("cy", cy).attr("r", 5.5)
    .attr("fill", r.color).attr("fill-opacity", r.op);
  legend.append("text")
    .attr("x", 603).attr("y", cy + 24)
    .style("font-size", fontSize + "px")
    .text(r.label);
});

</script>
</body>
</html>
